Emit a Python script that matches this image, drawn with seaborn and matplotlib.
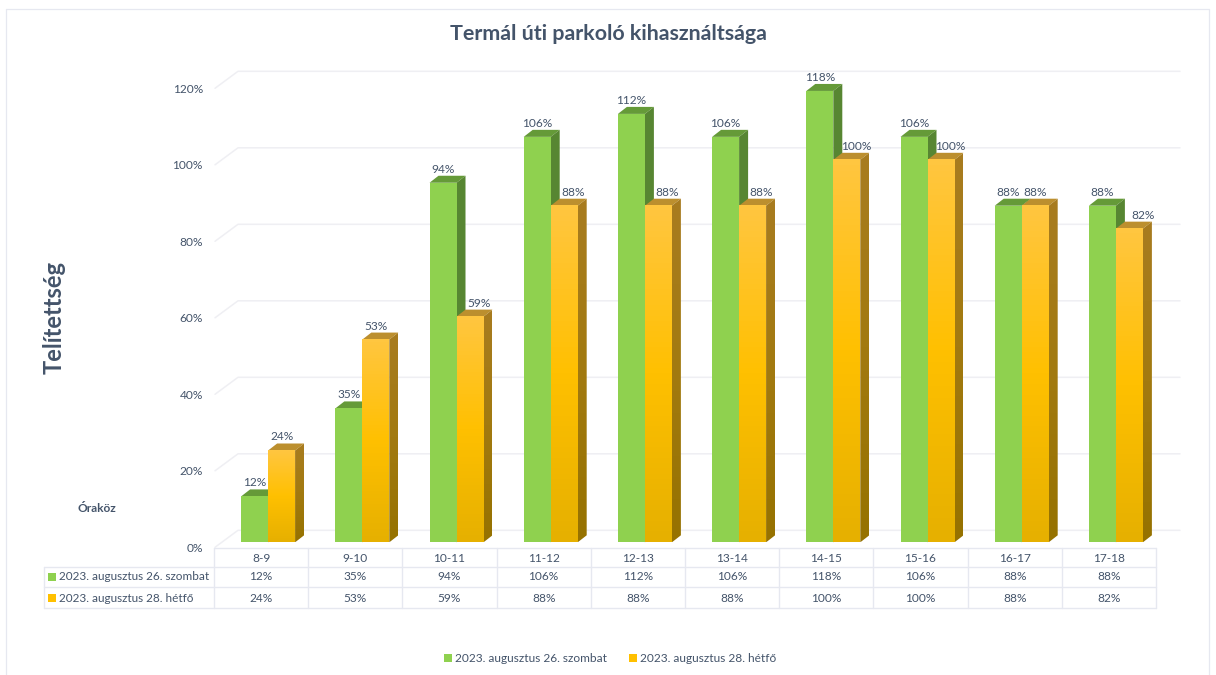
import numpy as np
import pandas as pd
import seaborn as sns
import matplotlib.pyplot as plt
from matplotlib.colors import LinearSegmentedColormap
from matplotlib.patches import Polygon, Rectangle
from matplotlib.transforms import ScaledTranslation

hours = ["8-9", "9-10", "10-11", "11-12", "12-13", "13-14", "14-15", "15-16", "16-17", "17-18"]
saturday = [12, 35, 94, 106, 112, 106, 118, 106, 88, 88]
monday = [24, 53, 59, 88, 88, 88, 100, 100, 88, 82]
sat_name = "2023. augusztus 26. szombat"
mon_name = "2023. augusztus 28. hétfő"
y_ticks = [0, 20, 40, 60, 80, 100, 120]

sns.set_theme(style="white")
plt.rcParams["font.family"] = ["Lato", "DejaVu Sans"]
text_col = "#44546A"
line_col = "#E6E8F0"

df = pd.DataFrame({
    "hour": hours * 2,
    "value": saturday + monday,
    "series": [sat_name] * len(hours) + [mon_name] * len(hours),
})

W, H = 1216, 675
fig = plt.figure(figsize=(W / 100, H / 100), dpi=100, facecolor="white")

# overlay in pixel coords for the frame, gridlines and table
ov = fig.add_axes([0, 0, 1, 1], zorder=0)
ov.set_xlim(0, W)
ov.set_ylim(H, 0)
ov.axis("off")

base_y, top_y = 542.3, 60
ax = fig.add_axes([221 / W, 1 - base_y / H, 942 / W, (base_y - top_y) / H], zorder=1)
ax.patch.set_alpha(0)
sns.barplot(data=df, x="hour", y="value", hue="series", ax=ax, width=0.573, gap=0,
            palette=["#8FD14F", "#FFC000"], saturation=1, linewidth=0)
handles, labels = ax.get_legend_handles_labels()
ax.get_legend().remove()
ax.set_xlim(-0.5, 9.5)
ax.set_ylim(0, (base_y - top_y) / 3.825)
ax.set_xlabel("")
ax.set_ylabel("")
ax.set_xticks(range(len(hours)), [""] * len(hours))
ax.set_yticks(y_ticks, [f"{v}%" for v in y_ticks])
ax.tick_params(axis="y", length=0, pad=13, labelsize=8.6, labelcolor=text_col)
ax.tick_params(axis="x", length=0)
sns.despine(ax=ax, left=True, bottom=True)
# tick labels sit on the front floor edge, a little below the bars' scale
shift = ScaledTranslation(0, -5 / 100, fig.dpi_scale_trans)
for lab in ax.get_yticklabels():
    lab.set_transform(lab.get_transform() + shift)


def to_px(x, y):
    px, py = ax.transData.transform((x, y))
    return px, H - py


# frame
ov.plot([6, 6], [H, 9], color=line_col, lw=0.9)
ov.plot([6, 1209], [9, 9], color=line_col, lw=0.9)
ov.plot([1209, 1209], [9, H], color=line_col, lw=0.9)

# gridlines: side wall and back wall
for v in y_ticks:
    _, gy = to_px(0, v)
    ov.plot([215, 238, 1180], [gy + 5, gy - 12, gy - 12], color="#EFEFF3", lw=1.1)

dx, dy = 9, 7
cmap_orange = LinearSegmentedColormap.from_list("o", ["#FFC640", "#FFC000", "#E6B000"])
cmap_side = LinearSegmentedColormap.from_list("s", ["#A87C20", "#A27A10", "#967200"])
top_cols = ["#659A38", "#BC8F2E"]
side_cols = ["#578632", None]

for s, bars in enumerate(ax.containers):
    for bar in bars:
        l, r = bar.get_x(), bar.get_x() + bar.get_width()
        h = bar.get_height()
        (xl, yt), (xr, yb) = to_px(l, h), to_px(r, 0)
        z = 2 + s
        top = [(xl, yt), (xr, yt), (xr + dx, yt - dy), (xl + dx, yt - dy)]
        side = [(xr, yt), (xr + dx, yt - dy), (xr + dx, yb - dy), (xr, yb)]
        ax.add_patch(Polygon(top, fc=top_cols[s], ec="none", transform=ov.transData, zorder=z, clip_on=False))
        if s == 0:
            ax.add_patch(Polygon(side, fc=side_cols[s], ec="none", transform=ov.transData, zorder=z, clip_on=False))
        else:
            grad = np.linspace(0, 1, 64).reshape(-1, 1)
            sp = Polygon(side, fc="none", ec="none", transform=ov.transData)
            ax.add_patch(sp)
            im = ax.imshow(grad, cmap=cmap_side, aspect="auto", zorder=z, transform=ov.transData,
                           extent=(xr, xr + dx, yb, yt - dy), origin="upper")
            im.set_clip_path(sp)
            ax.imshow(grad, cmap=cmap_orange, aspect="auto", zorder=z + 0.5,
                      extent=(l, r, 0, h), origin="upper")
        bar.set_zorder(z + 0.2)

ax.set_xlim(-0.5, 9.5)
ax.set_ylim(0, (base_y - top_y) / 3.825)

# value labels above the bars, nudged like the original where they would hit the 3d side
nudge_mon = [0, 0, 9, 9, 9, 9, 9, 9, 0, 14]
for s, (bars, vals) in enumerate(zip(ax.containers, [saturday, monday])):
    for i, (bar, v) in enumerate(zip(bars, vals)):
        cx, ty = to_px(bar.get_x() + bar.get_width() / 2, v)
        cx += nudge_mon[i] if s == 1 else 0
        ax.text(cx, ty - 13.5, f"{v}%", transform=ov.transData, ha="center", va="center",
                fontsize=8.6, color=text_col, zorder=6, clip_on=False)

# data table under the chart
col_x = 214 + 94.2 * np.arange(len(hours) + 1)
row_y = [548, 567, 587, 608]
ov.plot([col_x[0], col_x[-1]], [row_y[0], row_y[0]], color=line_col, lw=1)
for y in row_y[1:]:
    ov.plot([44, col_x[-1]], [y, y], color=line_col, lw=1)
for x in col_x:
    ov.plot([x, x], [row_y[0], row_y[-1]], color=line_col, lw=1)
ov.plot([44, 44], [row_y[1], row_y[-1]], color=line_col, lw=1)

for i, hour in enumerate(hours):
    cx = (col_x[i] + col_x[i + 1]) / 2
    ov.text(cx, 559, hour, ha="center", va="center", fontsize=8.6, color=text_col)
    ov.text(cx, 577, f"{saturday[i]}%", ha="center", va="center", fontsize=8.6, color=text_col)
    ov.text(cx, 598, f"{monday[i]}%", ha="center", va="center", fontsize=8.6, color=text_col)

for name, col, y in [(sat_name, "#8FD14F", 577), (mon_name, "#FFC000", 598)]:
    ov.add_patch(Rectangle((48, y - 4), 8, 8, fc=col, ec="none"))
    ov.text(59, y, name, ha="left", va="center", fontsize=8.5, color=text_col)

# titles
ov.text(608, 34, "Termál úti parkoló kihasználtsága", ha="center", va="center",
        fontsize=15.4, fontweight="bold", color=text_col)
ov.text(54, 318, "Telítettség", ha="center", va="center", rotation=90,
        fontsize=17, fontweight="bold", color=text_col)
ov.text(97, 508, "Óraköz", ha="center", va="center", fontsize=8.6, fontweight="bold", color=text_col)

fig.legend(handles, labels, loc="center", bbox_to_anchor=(610 / W, 1 - 659 / H), ncol=2, frameon=False,
           fontsize=8.6, labelcolor=text_col, handlelength=0.68, handleheight=0.68,
           handletextpad=0.2, columnspacing=1.9)

fig.savefig("out.png", dpi=100)
